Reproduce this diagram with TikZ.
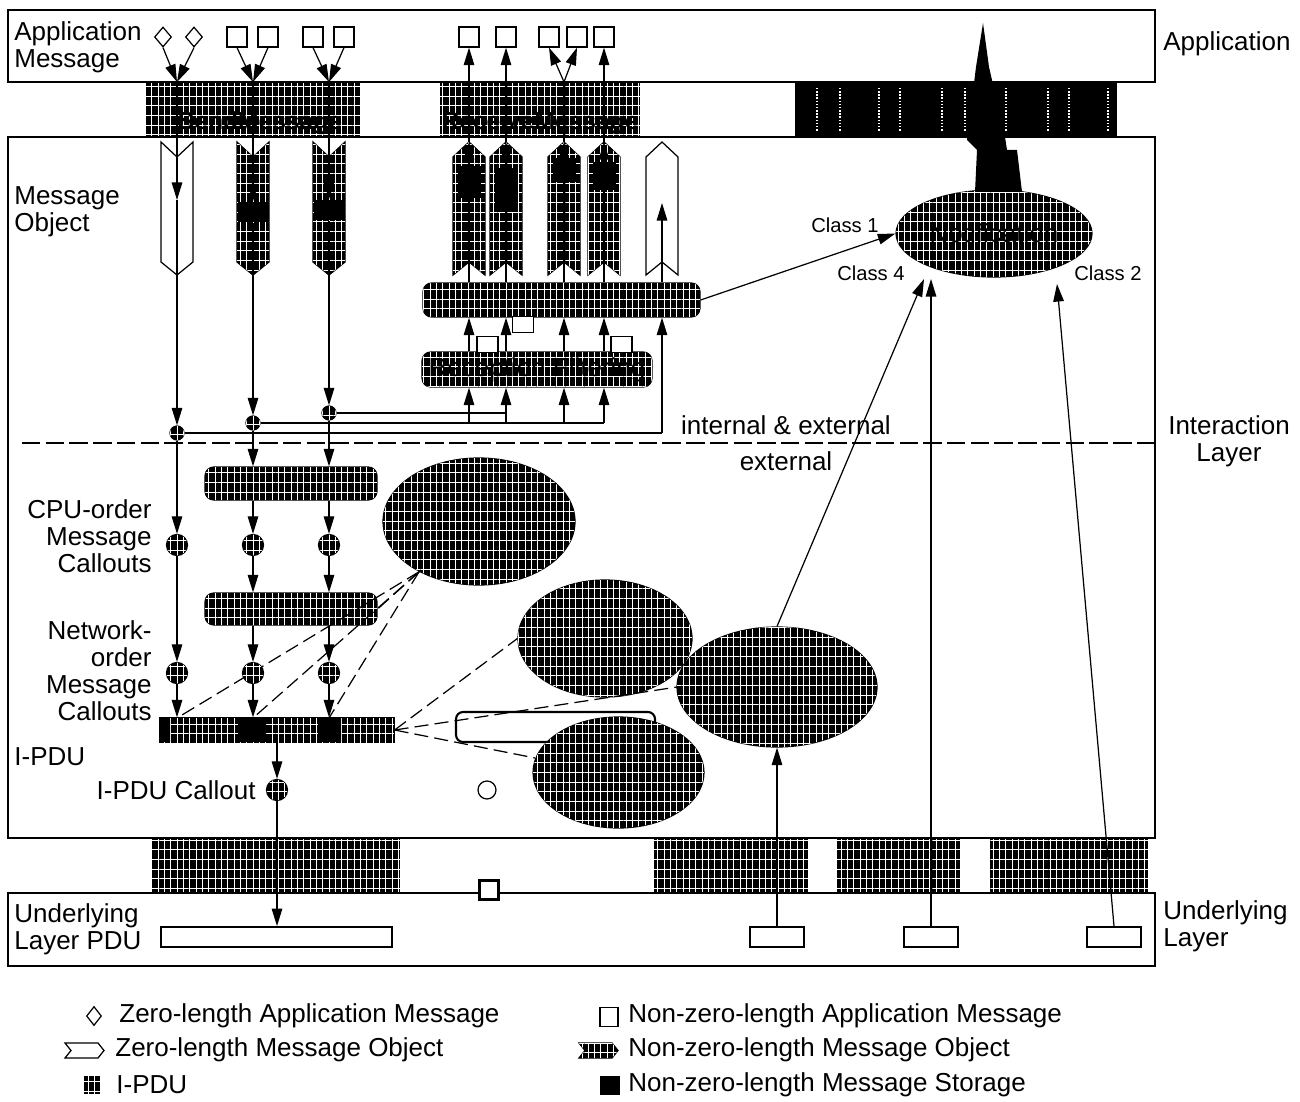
\documentclass[tikz,border=0pt]{standalone}
\usepackage{fontspec}
\setmainfont{Liberation Sans}
\usetikzlibrary{arrows.meta,shapes.geometric,patterns.meta}

\begin{document}
\begin{tikzpicture}[x=0.02cm,y=-0.02cm,line width=0.7pt,
font=\fontsize{14.8}{15.4}\selectfont,
layerbox/.style={draw=black,line width=1.5pt},
hatch/.style={fill=black,
  postaction={pattern={Lines[angle=0,distance=5.5pt,line width=.45pt]},pattern color=white},
  postaction={pattern={Lines[angle=90,distance=3.6pt,line width=.45pt]},pattern color=white}},
arr/.style={-{Triangle[length=10pt,width=6pt]}},
sepline/.style={dash pattern=on 10.5pt off 3pt,line width=1.2pt},
calloutlink/.style={dash pattern=on 8pt off 3.5pt},
zmsg/.style={diamond,draw,fill=white,minimum width=0.34cm,minimum height=0.4cm,inner sep=0},
nzmsg/.style={rectangle,draw,fill=white,minimum width=0.4cm,minimum height=0.4cm,inner sep=0},
store/.style={fill=black,inner sep=0,minimum width=0.62cm,minimum height=0.4cm},
rstore/.style={fill=black,inner sep=0,minimum width=0.46cm},
joint/.style={circle,draw,hatch,minimum size=0.28cm,inner sep=0},
callout/.style={circle,draw,hatch,minimum size=0.42cm,inner sep=0},
bar/.style={draw,hatch,rounded corners=5pt,inner sep=0},
fn/.style={ellipse,draw,hatch,inner sep=0},
apiblock/.style={hatch,inner sep=0},
smallq/.style={draw,fill=white,inner sep=0,minimum width=0.42cm,minimum height=0.32cm},
pdubox/.style={draw,fill=white,line width=1pt,inner sep=0,minimum height=0.4cm},
lbl/.style={inner sep=1pt},
cls/.style={inner sep=1pt,font=\fontsize{11.5}{13}\selectfont},
sendzero/.pic={\draw[fill=white] (-16,0) -- (0,15) -- (16,0) -- (16,120) -- (0,133) -- (-16,120) -- cycle;},
sendobj/.pic={\draw[hatch] (-16,0) -- (0,15) -- (16,0) -- (16,120) -- (0,133) -- (-16,120) -- cycle;},
rcvzero/.pic={\draw[fill=white] (0,0) -- (16,15) -- (16,133) -- (0,120) -- (-16,133) -- (-16,15) -- cycle;},
rcvobj/.pic={\draw[hatch] (0,0) -- (16,15) -- (16,133) -- (0,120) -- (-16,133) -- (-16,15) -- cycle;}]
\path[use as bounding box] (0,0) rectangle (1300,1101);

% service bands
\node[apiblock,minimum width=4.3cm,minimum height=1.1cm] (sendapi) at (252.5,109.5) {};
\node[font=\fontsize{14}{15}\selectfont\bfseries] (sendtxt) at (260,123) {SendMessage};
\node[apiblock,minimum width=4.0cm,minimum height=1.1cm] (recvapi) at (540,109.5) {};
\node[font=\fontsize{14}{15}\selectfont\bfseries] (recvtxt) at (540,123) {ReceiveMessage};
\node[fill=black,inner sep=0,minimum width=6.44cm,minimum height=1.1cm] (notifapi) at (956,109.5) {};
\draw[white,densely dotted,line width=0.8pt] (817,88) -- (817,132) (840,88) -- (840,132)
  (879,88) -- (879,132) (900,88) -- (900,132) (942,88) -- (942,132) (965,88) -- (965,132)
  (1006,88) -- (1006,132) (1048,88) -- (1048,132) (1069,88) -- (1069,132) (1108,88) -- (1108,132);
\node[apiblock,minimum width=4.96cm,minimum height=1.1cm] (txapi) at (276,865.5) {};
\node[apiblock,minimum width=3.08cm,minimum height=1.1cm] (rxapi) at (731,865.5) {};
\node[apiblock,minimum width=2.46cm,minimum height=1.1cm] (errapi) at (898.5,865.5) {};
\node[apiblock,minimum width=3.16cm,minimum height=1.1cm] (confapi) at (1069,865.5) {};

% layers
\draw[layerbox] (8,10) rectangle (1155,82);
\draw[layerbox] (8,137) rectangle (1155,838);
\draw[layerbox] (8,893) rectangle (1155,966);
\draw[sepline] (22,443) -- (1155,443);

% application messages
\node[zmsg] (az1) at (163,37) {};
\node[zmsg] (az2) at (194,37) {};
\node[nzmsg] (as1) at (237,37) {};
\node[nzmsg] (as2) at (268,37) {};
\node[nzmsg] (as3) at (313,37) {};
\node[nzmsg] (as4) at (344,37) {};
\node[nzmsg] (ar1) at (469,37) {};
\node[nzmsg] (ar2) at (506,37) {};
\node[nzmsg] (ar3) at (549,37) {};
\node[nzmsg] (ar4) at (577,37) {};
\node[nzmsg] (ar5) at (604,37) {};

% message objects
\pic at (177,142) {sendzero};
\pic at (253,142) {sendobj};
\pic at (329,142) {sendobj};
\pic at (469,142) {rcvobj};
\pic at (506,142) {rcvobj};
\pic at (564,142) {rcvobj};
\pic at (604,142) {rcvobj};
\pic at (662,142) {rcvzero};
\node[store] (st1) at (253,212) {};
\node[store] (st2) at (329,210) {};
\node[rstore,minimum height=0.66cm] (rs1) at (469,182) {};
\node[rstore,minimum height=0.9cm] (rs2) at (506,190) {};
\node[rstore,minimum height=0.5cm] (rs3) at (564,170) {};
\node[rstore,minimum height=0.56cm] (rs4) at (604,176) {};

\coordinate (s0) at (177,82);
\coordinate (s1) at (253,82);
\coordinate (s2) at (329,82);
\coordinate (z0) at (177,200);
\coordinate (z5) at (662,203);
\coordinate (fan) at (564,82);
\coordinate (rt1) at (469,142);
\coordinate (rt2) at (506,142);
\coordinate (rt3) at (564,142);
\coordinate (rt4) at (604,142);
\coordinate (k1) at (469,423);
\coordinate (k2) at (506,423);
\coordinate (k3) at (564,423);
\coordinate (k4) at (604,423);
\coordinate (k5) at (662,433);

% receive side
\node[bar,minimum width=5.54cm,minimum height=0.68cm] (copybar) at (561.5,300) {};
\node[bar,minimum width=4.6cm,minimum height=0.7cm] (recfilt) at (537,369.5) {Reception Filtering};
\node[smallq] (sq1) at (487.5,344.5) {};
\node[smallq] (sq2) at (621.5,344.5) {};
\node[smallq] (sq3) at (523,324.5) {};
\node[fn,minimum width=3.92cm,minimum height=1.74cm] (notif) at (994,233.5) {Notification};

% send side
\node[joint] (j1) at (177,433) {};
\node[joint] (j2) at (253,423) {};
\node[joint] (j3) at (329,413) {};
\node[bar,minimum width=3.44cm,minimum height=0.66cm] (sendfilt) at (291,483.5) {};
\node[bar,minimum width=3.44cm,minimum height=0.64cm] (byteord) at (291,609) {};
\node[fn,minimum width=3.84cm,minimum height=2.54cm] (ellA) at (479,521.5) {};
\node[fn,minimum width=3.48cm,minimum height=2.34cm] (ellB) at (605,638.5) {};
\node[draw,fill=white,rounded corners=4pt,line width=1.2pt,inner sep=0,minimum width=3.98cm,minimum height=0.6cm] (rrect) at (555.5,727) {};
\node[draw,hatch,inner sep=0,minimum width=4.68cm,minimum height=0.48cm] (ipdu) at (277,730) {};
\fill (160,718) rectangle (170,742) (238,718) rectangle (266,742) (318,718) rectangle (341,742);

% dashed links
\draw[calloutlink] (ellA.220) -- (177,718);
\draw[calloutlink] (ellA.220) -- (253,718);
\draw[calloutlink] (ellA.220) -- (329,718);
\draw[calloutlink] (ellA.220) -- (byteord.east);
\draw[calloutlink] (ipdu.east) -- (ellB.west);
\draw[calloutlink] (ipdu.east) -- (677,687);
\draw[calloutlink] (ipdu.east) -- (535,758);

\node[fn,minimum width=3.42cm,minimum height=2.22cm] (ellC) at (618.5,772.5) {};
\node[fn,minimum width=4.0cm,minimum height=2.4cm] (ellD) at (777,687) {};
\node[callout] (c1) at (177,545) {};
\node[callout] (c2) at (253,545) {};
\node[callout] (c3) at (329,545) {};
\node[callout] (n1) at (177,673) {};
\node[callout] (n2) at (253,673) {};
\node[callout] (n3) at (329,673) {};
\node[callout] (ipc) at (277,790) {};
\node[circle,draw,fill=white,minimum size=0.36cm,inner sep=0] (hc) at (487,790) {};

% underlying layer
\node[pdubox,minimum width=4.62cm] (ulpdu) at (276.5,937) {};
\node[pdubox,minimum width=1.08cm] (up1) at (777,937) {};
\node[pdubox,minimum width=1.08cm] (up2) at (931,937) {};
\node[pdubox,minimum width=1.08cm] (up3) at (1114,937) {};
\node[draw,fill=white,line width=1.2pt,inner sep=0,minimum size=0.38cm] (lowq) at (489,890) {};
\coordinate (cls4a) at (924,279);
\coordinate (cls4b) at (931,279);
\coordinate (cls2) at (1057,284);

% sending arrows
\draw[arr] (az1.south) -- (s0);
\draw[arr] (az2.south) -- (s0);
\draw[arr] (as1.south) -- (s1);
\draw[arr] (as2.south) -- (s1);
\draw[arr] (as3.south) -- (s2);
\draw[arr] (as4.south) -- (s2);
\draw[arr] (s0) -- (z0);
\draw[arr] (z0) -- (j1);
\draw[arr] (s1) -- (st1.north);
\draw[arr] (st1.south) -- (j2);
\draw[arr] (s2) -- (st2.north);
\draw[arr] (st2.south) -- (j3);

% internal
\draw (j3) -- (k2 |- j3);
\draw (j2) -- (k4);
\draw (j1) -- (k5);
\draw[arr] (k1) -- (k1 |- recfilt.south);
\draw[arr] (k2) -- (k2 |- recfilt.south);
\draw[arr] (k3) -- (k3 |- recfilt.south);
\draw[arr] (k4) -- (k4 |- recfilt.south);
\draw[arr] (k1 |- recfilt.north) -- (k1 |- copybar.south);
\draw[arr] (k2 |- recfilt.north) -- (k2 |- copybar.south);
\draw[arr] (k3 |- recfilt.north) -- (k3 |- copybar.south);
\draw[arr] (k4 |- recfilt.north) -- (k4 |- copybar.south);
\draw[arr] (k5) -- (k5 |- copybar.south);
\draw[arr] (k1 |- copybar.north) -- (rt1);
\draw[arr] (k2 |- copybar.north) -- (rt2);
\draw[arr] (k3 |- copybar.north) -- (rt3);
\draw[arr] (k4 |- copybar.north) -- (rt4);
\draw[arr] (k5 |- copybar.north) -- (z5);
\draw[arr] (rt1) -- (ar1.south);
\draw[arr] (rt2) -- (ar2.south);
\draw (rt3) -- (fan);
\draw[arr] (fan) -- (ar3.south);
\draw[arr] (fan) -- (ar4.south);
\draw[arr] (rt4) -- (ar5.south);
\draw[arr] (copybar.east) -- (notif.west);
\fill (983,23) -- (989,67) -- (1005,137) -- (1007,150) -- (1017,150) -- (1022,192) -- (975,192)
  -- (977,150) -- (967,140) -- (976,67) -- cycle;

% external
\draw[arr] (j1) -- (c1);
\draw[arr] (c1) -- (n1);
\draw[arr] (n1) -- (n1 |- ipdu.north);
\draw[arr] (j2) -- (j2 |- sendfilt.north);
\draw[arr] (j2 |- sendfilt.south) -- (c2);
\draw[arr] (c2) -- (c2 |- byteord.north);
\draw[arr] (c2 |- byteord.south) -- (n2);
\draw[arr] (n2) -- (n2 |- ipdu.north);
\draw[arr] (j3) -- (j3 |- sendfilt.north);
\draw[arr] (j3 |- sendfilt.south) -- (c3);
\draw[arr] (c3) -- (c3 |- byteord.north);
\draw[arr] (c3 |- byteord.south) -- (n3);
\draw[arr] (n3) -- (n3 |- ipdu.north);
\draw[arr] (ipdu.south -| ipc) -- (ipc);
\draw[arr] (ipc) -- (ipc |- ulpdu.north);
\draw[arr] (up1.north) -- (ellD.south);
\draw[arr] (ellD.north) -- (cls4a);
\draw[arr] (up2.north) -- (cls4b);
\draw[arr] (up3.north) -- (cls2);

% labels
\node[lbl,anchor=west,align=left] (lAppMsg) at (12,47) {Application\\Message};
\node[lbl,anchor=west,align=left] (lMsgObj) at (12,212) {Message\\Object};
\node[lbl,anchor=east,align=right] (lCpu) at (154,536) {CPU-order\\Message\\Callouts};
\node[lbl,anchor=east,align=right] (lNet) at (154,671) {Network-\\order\\Message\\Callouts};
\node[lbl,anchor=west] (lIpdu) at (12,757) {I-PDU};
\node[lbl,anchor=east] (lIpduCo) at (258,790) {I-PDU Callout};
\node[lbl,anchor=west,align=left] (lUlPdu) at (12,929) {Underlying\\Layer PDU};
\node[lbl,anchor=west] (rApp) at (1161,44) {Application};
\node[lbl,align=center] (rInter) at (1229,441) {Interaction\\Layer};
\node[lbl,anchor=west,align=left] (rUnder) at (1161,926) {Underlying\\Layer};
\node[lbl] (lIntExt) at (786,425) {internal \& external};
\node[lbl] (lExt) at (786,461) {external};
\node[cls] (lCls1) at (845,225) {Class 1};
\node[cls] (lCls4) at (871,273) {Class 4};
\node[cls] (lCls2) at (1108,273) {Class 2};

% legend
\node[zmsg,minimum width=.3cm,minimum height=.38cm] (lgz) at (94,1016) {};
\node[lbl,anchor=west] (lgzt) at (117,1016) {Zero-length Application Message};
\draw (65,1043) -- (98,1043) -- (104,1050.5) -- (98,1058) -- (65,1058) -- (71,1050.5) -- cycle;
\node[lbl,anchor=west] (lgot) at (113,1050) {Zero-length Message Object};
\fill[hatch] (84,1076) rectangle (100,1094);
\node[lbl,anchor=west] (lgit) at (114,1085) {I-PDU};
\node[nzmsg,minimum width=.36cm,minimum height=.38cm] (lgn) at (609,1017) {};
\node[lbl,anchor=west] (lgnt) at (626,1016) {Non-zero-length Application Message};
\draw[hatch] (579,1043) -- (612,1043) -- (618,1050.5) -- (612,1058) -- (579,1058) -- (585,1050.5) -- cycle;
\node[lbl,anchor=west] (lgot2) at (626,1050) {Non-zero-length Message Object};
\fill (600,1076) rectangle (620,1095);
\node[lbl,anchor=west] (lgst) at (626,1085) {Non-zero-length Message Storage};
\end{tikzpicture}
\end{document}
